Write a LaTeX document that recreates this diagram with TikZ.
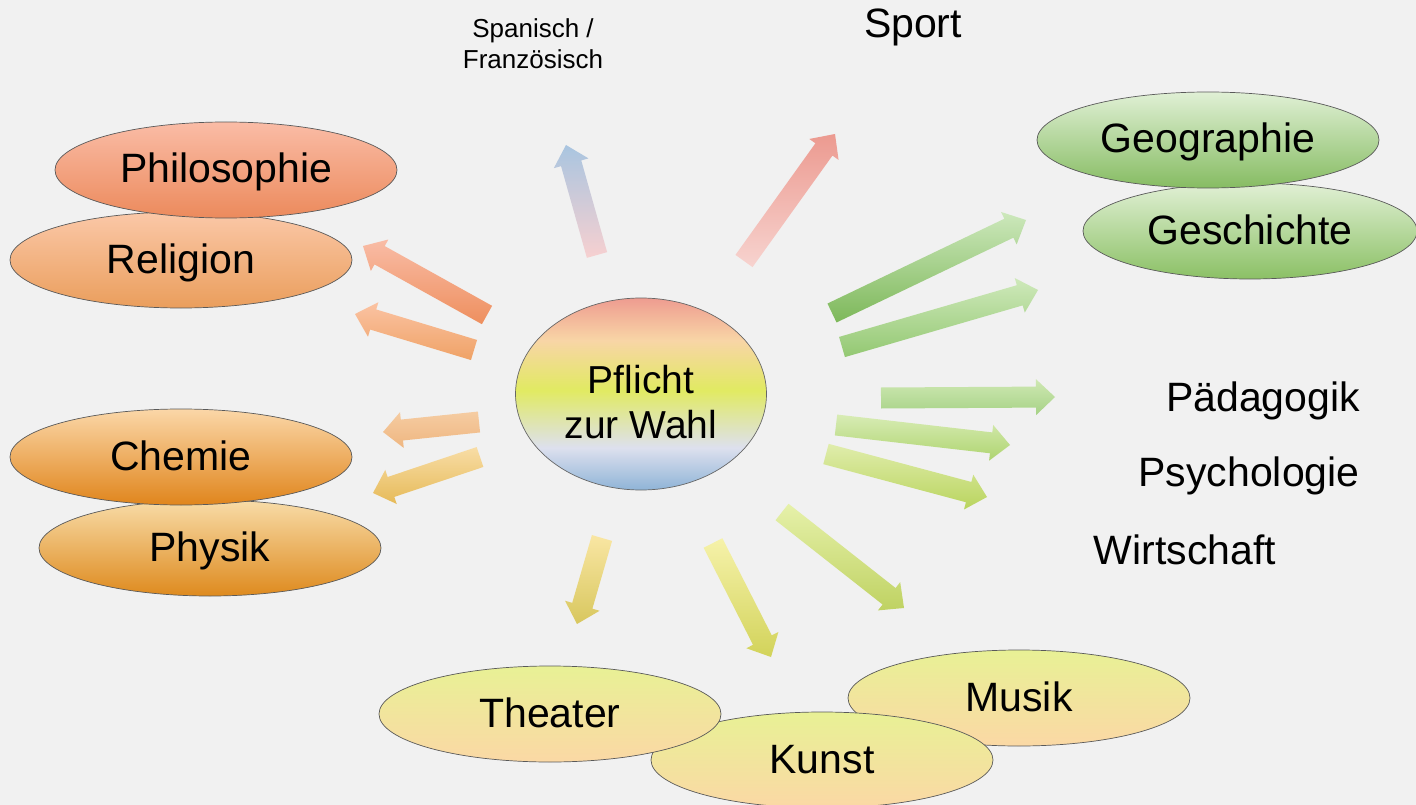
\documentclass[tikz,border=0pt]{standalone}
\usepackage{fontspec}
\setmainfont{Liberation Sans}
\usetikzlibrary{shapes.geometric,calc}
\definecolor{bg}{HTML}{F1F1F1}
\definecolor{cB}{HTML}{8FB4D7}
\definecolor{cL}{HTML}{DDE0EE}
\definecolor{cY}{HTML}{E1EA62}
\definecolor{cP}{HTML}{F8D5A6}
\definecolor{cS}{HTML}{EE9C90}
\pgfdeclareverticalshading{rainbow}{100bp}{color(0bp)=(cB); color(25bp)=(cB); color(36bp)=(cL); color(51bp)=(cY); color(64bp)=(cP); color(75bp)=(cS); color(100bp)=(cS)}
\tikzset{
  subj/.style={ellipse, draw=black!65, line width=0.7pt, minimum width=342pt, minimum height=96pt, inner sep=0pt, text height=30pt, text depth=4pt, font=\fontsize{41}{49}\selectfont},
  plaintext/.style={inner sep=0pt, anchor=base, font=\fontsize{41}{49}\selectfont},
}
\newcommand{\fatarrow}[4]{%
  \coordinate (hb) at ($(#2)!19pt!(#1)$);
  \path[top color=#3, bottom color=#4]
    ($(#1)!10.5pt!90:(#2)$) -- ($(hb)!10.5pt!90:(#2)$) -- ($(hb)!18pt!90:(#2)$) -- (#2)
    -- ($(hb)!18pt!-90:(#2)$) -- ($(hb)!10.5pt!-90:(#2)$) -- ($(#1)!10.5pt!-90:(#2)$) -- cycle;}
\begin{document}
\begin{tikzpicture}[x=1pt,y=-1pt]
\useasboundingbox (0,0) rectangle (1416,805);
\fill[bg] (0,0) rectangle (1416,805);

% ellipses
\node[subj, top color={rgb,255:red,251;green,200;blue,168}, bottom color={rgb,255:red,234;green,158;blue,92}] (relig) at (181,260) {Religion};
\node[subj, top color={rgb,255:red,250;green,188;blue,166}, bottom color={rgb,255:red,236;green,138;blue,92}] (philo) at (226,170) {Philosophie};
\node[subj, top color={rgb,255:red,248;green,220;blue,168}, bottom color={rgb,255:red,222;green,138;blue,30}] (phys) at (210,548) {Physik};
\node[subj, top color={rgb,255:red,251;green,215;blue,168}, bottom color={rgb,255:red,224;green,133;blue,28}] (chem) at (181,457) {Chemie};
\node[subj, minimum width=334pt, top color={rgb,255:red,225;green,240;blue,213}, bottom color={rgb,255:red,139;green,192;blue,101}] (gesch) at (1250,231) {Geschichte};
\node[subj, top color={rgb,255:red,224;green,240;blue,213}, bottom color={rgb,255:red,134;green,188;blue,98}] (geo) at (1208,140) {Geographie};
\node[subj, top color={rgb,255:red,232;green,241;blue,149}, bottom color={rgb,255:red,251;green,216;blue,165}] (musik) at (1019,698) {Musik};
\node[subj, top color={rgb,255:red,232;green,241;blue,149}, bottom color={rgb,255:red,251;green,216;blue,165}] (kunst) at (822,760) {Kunst};
\node[subj, top color={rgb,255:red,232;green,241;blue,149}, bottom color={rgb,255:red,251;green,216;blue,165}] (theat) at (550,714) {Theater};

% centre
\node[ellipse, draw=black!60, line width=0.7pt, shading=rainbow, minimum width=251pt, minimum height=192pt, inner sep=0pt] (centre) at (641,394) {};
\node[inner sep=0pt, align=center, font=\fontsize{39}{45}\selectfont] (centretext) at (641,402) {Pflicht\\zur Wahl};

% plain labels
\node[inner sep=0pt, align=center, font=\fontsize{26}{31}\selectfont] (span) at (533,44) {Spanisch /\\Französisch};
\node[plaintext] (sport) at (913,38) {Sport};
\node[plaintext] (paed) at (1263,411) {Pädagogik};
\node[plaintext] (psych) at (1249,486) {Psychologie};
\node[plaintext] (wirt) at (1185,564) {Wirtschaft};

% arrow coordinates
\coordinate (spanT) at (597,255);   \coordinate (spanP) at (566,145);
\coordinate (sportT) at (744,261);  \coordinate (sportP) at (835,134);
\coordinate (philoT) at (487,315);  \coordinate (philoP) at (363,246);
\coordinate (religT) at (474,350);  \coordinate (religP) at (355,314);
\coordinate (chemT) at (479,422);   \coordinate (chemP) at (383,432);
\coordinate (physT) at (480,457);   \coordinate (physP) at (373,493);
\coordinate (geoT) at (832,313);    \coordinate (geoP) at (1026,220);
\coordinate (geschT) at (842,347);  \coordinate (geschP) at (1038,290);
\coordinate (paedT) at (881,398);   \coordinate (paedP) at (1055,397);
\coordinate (psychT) at (836,425);  \coordinate (psychP) at (1010,445);
\coordinate (wirtT) at (826,454);   \coordinate (wirtP) at (987,497);
\coordinate (musikT) at (782,512);  \coordinate (musikP) at (904,608);
\coordinate (kunstT) at (713,543);  \coordinate (kunstP) at (771,657);
\coordinate (theatT) at (602,538);  \coordinate (theatP) at (577,624);

\fatarrow{spanT}{spanP}{{rgb,255:red,169;green,197;blue,224}}{{rgb,255:red,247;green,208;blue,208}}
\fatarrow{sportT}{sportP}{{rgb,255:red,236;green,154;blue,144}}{{rgb,255:red,247;green,211;blue,207}}
\fatarrow{philoT}{philoP}{{rgb,255:red,249;green,188;blue,166}}{{rgb,255:red,238;green,143;blue,94}}
\fatarrow{religT}{religP}{{rgb,255:red,251;green,195;blue,163}}{{rgb,255:red,239;green,162;blue,102}}
\fatarrow{chemT}{chemP}{{rgb,255:red,245;green,204;blue,162}}{{rgb,255:red,239;green,182;blue,128}}
\fatarrow{physT}{physP}{{rgb,255:red,248;green,221;blue,166}}{{rgb,255:red,230;green,186;blue,88}}
\fatarrow{geoT}{geoP}{{rgb,255:red,205;green,232;blue,188}}{{rgb,255:red,125;green,184;blue,90}}
\fatarrow{geschT}{geschP}{{rgb,255:red,207;green,233;blue,187}}{{rgb,255:red,147;green,200;blue,114}}
\fatarrow{paedT}{paedP}{{rgb,255:red,207;green,232;blue,179}}{{rgb,255:red,166;green,210;blue,134}}
\fatarrow{psychT}{psychP}{{rgb,255:red,216;green,236;blue,181}}{{rgb,255:red,174;green,212;blue,111}}
\fatarrow{wirtT}{wirtP}{{rgb,255:red,224;green,237;blue,172}}{{rgb,255:red,185;green,212;blue,94}}
\fatarrow{musikT}{musikP}{{rgb,255:red,230;green,241;blue,170}}{{rgb,255:red,191;green,210;blue,98}}
\fatarrow{kunstT}{kunstP}{{rgb,255:red,246;green,242;blue,170}}{{rgb,255:red,210;green,211;blue,90}}
\fatarrow{theatT}{theatP}{{rgb,255:red,249;green,230;blue,163}}{{rgb,255:red,216;green,199;blue,94}}
\end{tikzpicture}
\end{document}
